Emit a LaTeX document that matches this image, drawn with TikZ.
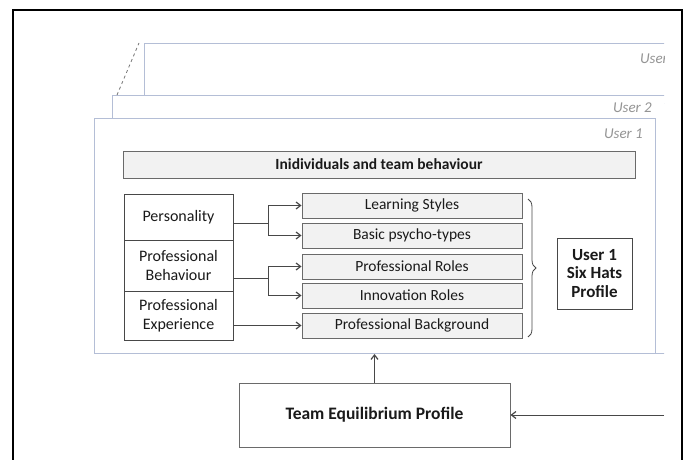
\documentclass[tikz,border=0pt]{standalone}
\usepackage{fontspec}
\setmainfont{Carlito}
\usetikzlibrary{arrows.meta,decorations.pathreplacing}

\definecolor{panelline}{HTML}{B4BED6}
\definecolor{boxline}{HTML}{6A6A6A}
\definecolor{boxfill}{HTML}{F2F2F2}
\definecolor{txt}{HTML}{1A1A1A}
\definecolor{usertxt}{HTML}{949494}

\tikzset{
  panel/.style={draw=panelline, fill=white, line width=1pt, anchor=north west, inner sep=0pt},
  usertag/.style={font=\fontsize{15}{17}\selectfont\itshape, text=usertxt, anchor=east, inner sep=0pt},
  leftbox/.style={draw=txt!80, fill=white, line width=1pt, minimum width=109, inner sep=0pt,
    align=center, text=txt, font=\fontsize{16}{19}\selectfont},
  rightbox/.style={draw=boxline, fill=boxfill, line width=1pt, minimum width=220, minimum height=25,
    inner sep=0pt, text=txt, font=\fontsize{15.5}{17}\selectfont},
  arr/.style={draw=txt!80, line width=0.9pt, -{Straight Barb[length=4.5pt,width=7pt,line width=1.2pt]}},
}

\begin{document}
\begin{tikzpicture}[x=1pt, y=-1pt]
\useasboundingbox (0,0) rectangle (686,460);

%% outer frame
\draw[line width=1.8pt] (13,460) -- (13,10) -- (682,10) -- (682,460);

%% stacked user panels
\begin{scope}
\clip (0,0) rectangle (664,460);
\node[panel, minimum width=560, minimum height=60] (user3) at (144,43) {};
\node[usertag] at (668,59) {User};
\node[panel, minimum width=560, minimum height=258] (user2) at (112,95) {};
\node[usertag] at (652,108) {User 2};
\node[panel, minimum width=561, minimum height=235] (user1) at (94,118) {};
\node[usertag] at (643,134) {User 1};
\end{scope}
\draw[dashed, draw=txt!60, line width=0.8pt] (117,95) -- (139,43);

%% title bar
\node[draw=boxline, fill=boxfill, line width=1pt, minimum width=512, minimum height=27, inner sep=0pt,
  text=txt, font=\fontsize{15.5}{17}\selectfont\bfseries] (title) at (379,164.5) {Inidividuals and team behaviour};

%% left boxes
\node[leftbox, minimum height=46] (pers) at (178.5,217) {Personality};
\node[leftbox, minimum height=51] (beh)  at (178.5,265.5) {Professional\\Behaviour};
\node[leftbox, minimum height=49] (exp)  at (178.5,315.5) {Professional\\Experience};

%% right boxes
\node[rightbox] (learn) at (412,205.5) {Learning Styles};
\node[rightbox] (basic) at (412,235.5) {Basic psycho-types};
\node[rightbox] (roles) at (412,266.5) {Professional Roles};
\node[rightbox] (innov) at (412,295.5) {Innovation Roles};
\node[rightbox] (bg)    at (412,325.5) {Professional Background};

%% forks
\coordinate (f1) at (268,223);
\coordinate (f2) at (268,278);
\draw[draw=txt!80, line width=0.9pt] (pers.east |- f1) -- (f1);
\draw[arr] (f1) |- (learn.west);
\draw[arr] (f1) |- (basic.west);
\draw[draw=txt!80, line width=0.9pt] (beh.east |- f2) -- (f2);
\draw[arr] (f2) |- (roles.west);
\draw[arr] (f2) |- (innov.west);
\draw[arr] (exp.east |- bg.west) -- (bg.west);

%% brace and profile
\draw[draw=txt!80, line width=0.8pt, decorate, decoration={brace, amplitude=8pt}] (528,199) -- (528,337);
\node[draw=txt!80, fill=white, line width=1pt, minimum width=75, minimum height=71, inner sep=0pt,
  align=center, text=txt, font=\fontsize{17}{18.5}\selectfont\bfseries] (hats) at (594.5,273.5) {User 1\\Six Hats\\Profile};

%% team profile
\node[draw=boxline, fill=white, line width=1pt, minimum width=271, minimum height=64, inner sep=0pt,
  text=txt, font=\fontsize{17.5}{19}\selectfont\bfseries] (team) at (374.5,415) {Team Equilibrium Profile};
\coordinate (feed) at (664,415);
\draw[arr] (team.north) -- (team.north |- user1.south);
\draw[arr] (feed) -- (team.east);

\end{tikzpicture}
\end{document}
